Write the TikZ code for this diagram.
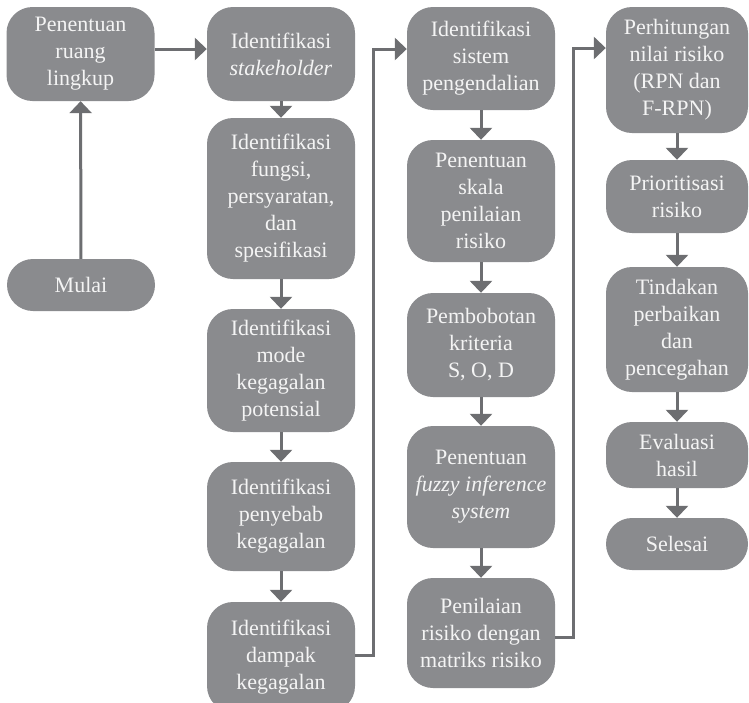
\documentclass[tikz,border=0pt]{standalone}
\usepackage{fontspec}
\setmainfont{Liberation Serif}
\usetikzlibrary{arrows.meta}
\definecolor{boxgray}{HTML}{8A8B8E}
\definecolor{arrowgray}{HTML}{6D6E71}
\definecolor{boxtext}{HTML}{F4F4F4}
\begin{document}
\begin{tikzpicture}[x=1pt,y=-1pt,
  stepbox/.style={fill=boxgray, text=boxtext, rounded corners=26pt, align=center,
    inner sep=0pt, font=\fontsize{22}{27}\selectfont},
  colA/.style={stepbox, minimum width=148pt},
  colD/.style={stepbox, minimum width=142pt},
  flow/.style={draw=arrowgray, line width=3pt,
    -{Triangle[width=22pt,length=12pt]}}]
\useasboundingbox (0,0) rectangle (749,702);

% left start
\node[colA, minimum height=94pt] (scope) at (80.5,54) {Penentuan\\ruang\\lingkup};
\node[colA, minimum height=52pt] (start) at (81,285) {Mulai};

% column two
\node[colA, minimum height=94pt]  (stake) at (281,54) {Identifikasi\\\textit{stakeholder}};
\node[colA, minimum height=161pt] (func)  at (281,198.5) {Identifikasi\\fungsi,\\persyaratan,\\dan\\spesifikasi};
\node[colA, minimum height=123pt] (mode)  at (281,370.5) {Identifikasi\\mode\\kegagalan\\potensial};
\node[colA, minimum height=109pt] (cause) at (281,516.5) {Identifikasi\\penyebab\\kegagalan};
\node[colA, minimum height=110pt] (effect) at (281,657) {Identifikasi\\dampak\\kegagalan};

% column three
\node[colA, minimum height=103pt] (ctrl)  at (481,58.5) {Identifikasi\\sistem\\pengendalian};
\node[colA, minimum height=122pt] (scale) at (481,201) {Penentuan\\skala\\penilaian\\risiko};
\node[colA, minimum height=104pt] (weight) at (481,345) {Pembobotan\\kriteria\\S, O, D};
\node[colA, minimum height=122pt] (fis)   at (481,487) {Penentuan\\\textit{fuzzy inference}\\\textit{system}};
\node[colA, minimum height=110pt] (matrix) at (481,633) {Penilaian\\risiko dengan\\matriks risiko};

% column four
\node[colD, minimum height=126pt] (rpn)   at (677,70) {Perhitungan\\nilai risiko\\(RPN dan\\F-RPN)};
\node[colD, minimum height=73pt]  (prio)  at (677,196.5) {Prioritisasi\\risiko};
\node[colD, minimum height=125pt] (act)   at (677,329.5) {Tindakan\\perbaikan\\dan\\pencegahan};
\node[colD, minimum height=66pt]  (eval)  at (677,455) {Evaluasi\\hasil};
\node[colD, minimum height=52pt]  (done)  at (677,544) {Selesai};

% connectors
\draw[flow] (start) -- (scope);
\draw[flow] ([yshift=5pt]scope.east) -- ([yshift=5pt]stake.west);
\draw[flow] (stake) -- (func);
\draw[flow] (func) -- (mode);
\draw[flow] (mode) -- (cause);
\draw[flow] (cause) -- (effect);

\coordinate (jumpB) at (373,49);
\draw[flow] ([yshift=2pt]effect.east) -| (jumpB) -- (jumpB -| ctrl.west);

\draw[flow] (ctrl) -- (scale);
\draw[flow] (scale) -- (weight);
\draw[flow] (weight) -- (fis);
\draw[flow] (fis) -- (matrix);

\coordinate (jumpC) at (573,48);
\draw[flow] ([yshift=-4pt]matrix.east) -| (jumpC) -- (jumpC -| rpn.west);

\draw[flow] (rpn) -- (prio);
\draw[flow] (prio) -- (act);
\draw[flow] (act) -- (eval);
\draw[flow] (eval) -- (done);
\end{tikzpicture}
\end{document}
